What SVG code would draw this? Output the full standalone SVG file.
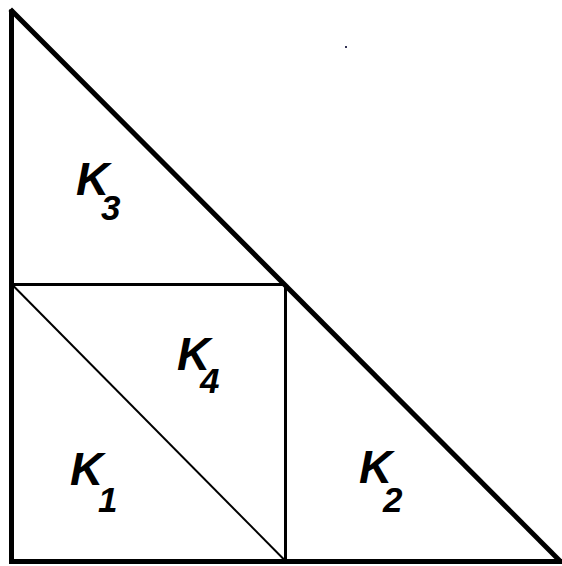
<svg xmlns="http://www.w3.org/2000/svg" width="562" height="566" viewBox="0 0 562 566">
<style>
.thick{stroke:#000;stroke-width:5;fill:none;stroke-linecap:square}
.mid{stroke:#000;stroke-width:3;fill:none}
.thin{stroke:#000;stroke-width:2;fill:none}
.k{font-family:"Liberation Sans",Arial,sans-serif;font-weight:bold;font-style:italic;font-size:46px;fill:#000}
.s{font-family:"Liberation Sans",Arial,sans-serif;font-weight:bold;font-style:italic;font-size:35px;fill:#000}
</style>
<rect width="562" height="566" fill="#fff"/>
<g id="connectors">
<line class="mid" x1="12" y1="284.5" x2="285.5" y2="284.5"/>
<line class="mid" x1="285.5" y1="284.5" x2="285.5" y2="561"/>
<line class="thin" x1="12" y1="284.5" x2="285.5" y2="561"/>
<line class="thick" x1="11.5" y1="12" x2="11.5" y2="561.5"/>
<line class="thick" x1="11.5" y1="561.5" x2="560" y2="561.5"/>
<line class="thick" x1="12" y1="11" x2="559" y2="560"/>
</g>
<g id="K3"><text class="k" x="76" y="195">K</text><text class="s" x="101" y="220">3</text></g>
<g id="K4"><text class="k" x="177" y="370">K</text><text class="s" x="200" y="393">4</text></g>
<g id="K1"><text class="k" x="70" y="485">K</text><text class="s" x="98" y="512">1</text></g>
<g id="K2"><text class="k" x="359" y="483">K</text><text class="s" x="383" y="512">2</text></g>
<rect x="345" y="46" width="2" height="2" fill="#335"/>
</svg>
